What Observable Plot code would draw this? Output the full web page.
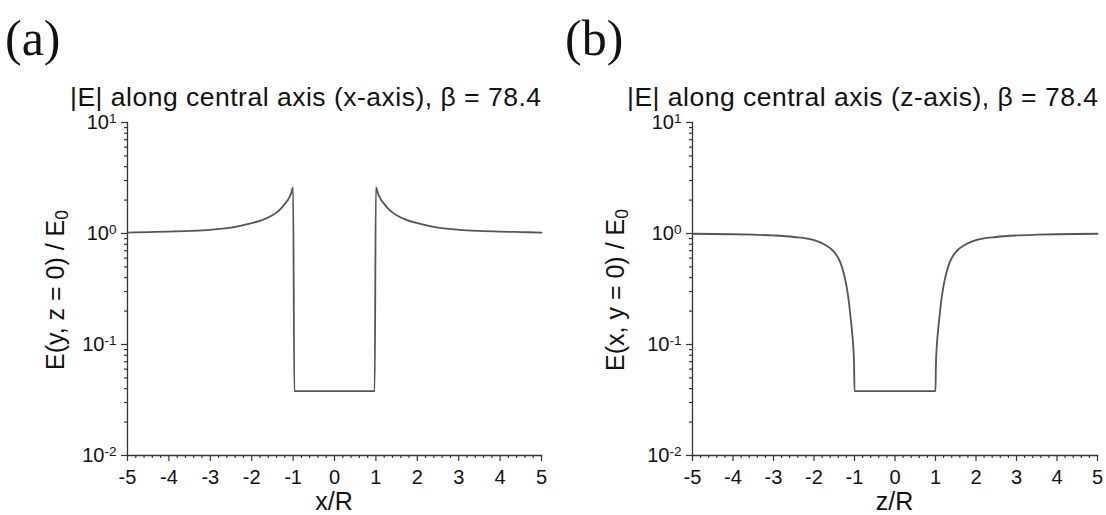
<!DOCTYPE html>
<html><head><meta charset="utf-8">
<script src="https://cdn.jsdelivr.net/npm/d3@7"></script>
<script src="https://cdn.jsdelivr.net/npm/@observablehq/plot@0.6"></script>
<style>
body{margin:0;background:#fff;}
#root{position:relative;width:1106px;height:515px;overflow:hidden;font-family:"Liberation Sans",Arial,sans-serif;color:#111;}
.panel{position:absolute;top:0;}
.tag{position:absolute;font-family:"Liberation Serif","Times New Roman",serif;font-size:50px;line-height:1;white-space:nowrap;}
.title{position:absolute;font-size:26.5px;letter-spacing:0.5px;line-height:1;white-space:nowrap;}
.xlab{position:absolute;font-size:25px;line-height:1;white-space:nowrap;transform:translate(-50%,-50%);}
.ylab{position:absolute;font-size:25px;line-height:1;white-space:nowrap;transform:translate(-50%,-50%) rotate(-90deg);}
.ylab sub{font-size:0.7em;vertical-align:-0.25em;}
</style></head><body><div id="root"></div>
<script>
// ---- data ----
const xTicks = [-5, -4, -3, -2, -1, 0, 1, 2, 3, 4, 5];
const yTicks = [0.01, 0.1, 1, 10];
const yTickExp = ["-2", "-1", "0", "1"];

// panel (a): |E| along x-axis
const xA = [-5, -4.5, -4, -3.5, -3, -2.5, -2, -1.75, -1.5, -1.4, -1.3, -1.2, -1.1, -1.05, -1.0, -0.97,
            0.97, 1.0, 1.05, 1.1, 1.2, 1.3, 1.4, 1.5, 1.75, 2, 2.5, 3, 3.5, 4, 4.5, 5];
const eA = [1.02, 1.03, 1.04, 1.055, 1.08, 1.13, 1.24, 1.32, 1.46, 1.55, 1.67, 1.85, 2.08, 2.3, 2.6, 0.038,
            0.038, 2.6, 2.3, 2.08, 1.85, 1.67, 1.55, 1.46, 1.32, 1.24, 1.13, 1.08, 1.055, 1.04, 1.03, 1.02];

// panel (b): |E| along z-axis
const xB = [-5, -4, -3.5, -3, -2.5, -2, -1.75, -1.5, -1.35, -1.26, -1.2, -1.15, -1.1, -1.06, -1.03, -1.01, -1.0,
            1.0, 1.01, 1.03, 1.06, 1.1, 1.15, 1.2, 1.26, 1.35, 1.5, 1.75, 2, 2.5, 3, 3.5, 4, 5];
const eB = [0.995, 0.985, 0.975, 0.96, 0.93, 0.87, 0.8, 0.68, 0.55, 0.43, 0.34, 0.26, 0.18, 0.13, 0.095, 0.065, 0.038,
            0.038, 0.065, 0.095, 0.13, 0.18, 0.26, 0.34, 0.43, 0.55, 0.68, 0.8, 0.87, 0.93, 0.96, 0.975, 0.985, 0.995];

const titles = ["|E| along central axis (x-axis), \u03B2 = 78.4", "|E| along central axis (z-axis), \u03B2 = 78.4"];
const tags = ["(a)", "(b)"];
const xLabels = ["x/R", "z/R"];
const yLabels = ["E(y, z = 0) / E", "E(x, y = 0) / E"];
const ySub = "0";

// ---- drawing ----
const minorY = [];
for (const d of [0.01, 0.1, 1]) for (let k = 2; k <= 9; k++) minorY.push(+(d * k).toPrecision(3));
const minorX = d3.range(-50, 51, 2).map(v => v / 10).filter(v => !Number.isInteger(v));

const axisColor = "#333";
function panel(xs, es, w, ml, mr) {
  const data = xs.map((x, i) => ({x, e: es[i]}));
  const svg = Plot.plot({
    width: w, height: 515,
    marginLeft: ml, marginRight: mr, marginTop: 122, marginBottom: 60,
    style: {fontFamily: "'Liberation Sans', Arial, sans-serif", fontSize: "20px", color: "#111", background: "transparent", overflow: "visible"},
    x: {domain: [-5, 5]},
    y: {type: "log", domain: [0.01, 10]},
    marks: [
      Plot.axisX({ticks: minorX, tickSize: 3, text: null, label: null, stroke: axisColor, strokeWidth: 1.2}),
      Plot.axisX({ticks: xTicks, tickSize: 6, tickPadding: 8, tickFormat: d => String(d), label: null, stroke: axisColor, strokeWidth: 1.2}),
      Plot.axisY({ticks: minorY, tickSize: 3, text: null, label: null, stroke: axisColor, strokeWidth: 1.2}),
      Plot.axisY({ticks: yTicks, tickSize: 6, tickPadding: 5, tickFormat: d => "10^" + yTickExp[yTicks.indexOf(d)], label: null, stroke: axisColor, strokeWidth: 1.2}),
      Plot.frame({anchor: "left", stroke: axisColor, strokeWidth: 1.3}),
      Plot.frame({anchor: "bottom", stroke: axisColor, strokeWidth: 1.3}),
      Plot.line(data, {x: "x", y: "e", stroke: "#555", strokeWidth: 1.8, curve: "monotone-x"})
    ]
  });
  // superscript exponents on y tick labels
  d3.select(svg).selectAll("text").each(function() {
    const t = this.textContent;
    if (t.startsWith("10^")) {
      const exp = t.slice(3);
      const sel = d3.select(this);
      sel.text("10");
      sel.append("tspan").attr("dy", "-0.45em").attr("font-size", "0.68em").text(exp);
    }
  });
  return svg;
}

const root = document.getElementById("root");
const layout = [
  {left: 0, w: 560, ml: 127, mr: 19, xs: xA, es: eA, tl: 70},
  {left: 560, w: 546, ml: 132, mr: 9, xs: xB, es: eB, tl: 67}
];
layout.forEach((L, i) => {
  const div = document.createElement("div");
  div.className = "panel";
  div.style.left = L.left + "px";
  div.appendChild(panel(L.xs, L.es, L.w, L.ml, L.mr));
  root.appendChild(div);

  const tag = document.createElement("div");
  tag.className = "tag"; tag.textContent = tags[i];
  tag.style.left = (L.left + 5) + "px"; tag.style.top = "13px";
  root.appendChild(tag);

  const ti = document.createElement("div");
  ti.className = "title"; ti.textContent = titles[i];
  ti.style.left = (L.left + L.tl) + "px"; ti.style.top = "84px";
  root.appendChild(ti);

  const plotL = L.left + L.ml, plotR = L.left + L.w - L.mr;
  const xl = document.createElement("div");
  xl.className = "xlab"; xl.textContent = xLabels[i];
  xl.style.left = ((plotL + plotR) / 2) + "px"; xl.style.top = "501px";
  root.appendChild(xl);

  const yl = document.createElement("div");
  yl.className = "ylab";
  yl.innerHTML = yLabels[i] + "<sub>" + ySub + "</sub>";
  yl.style.left = (L.left + 57) + "px"; yl.style.top = "290px";
  root.appendChild(yl);
});
</script>
</body></html>
